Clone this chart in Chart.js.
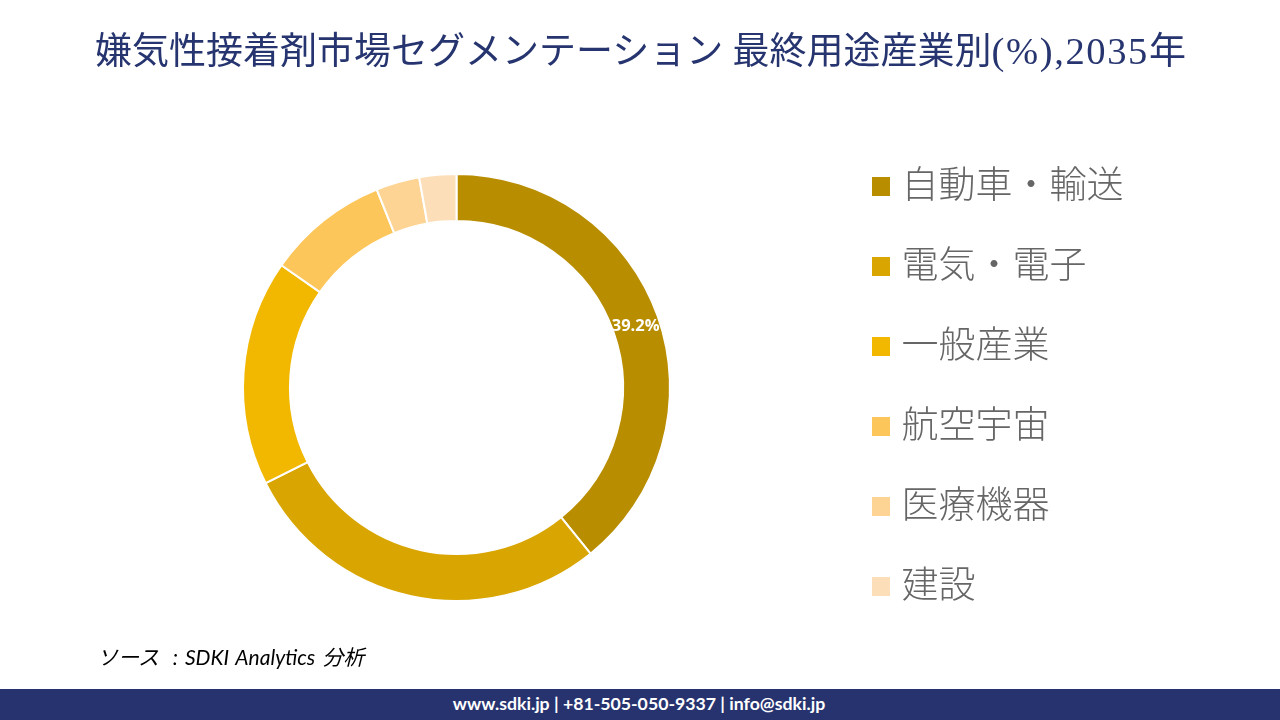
<!DOCTYPE html>
<html lang="ja">
<head>
<meta charset="utf-8">
<script src="https://cdn.jsdelivr.net/npm/chart.js@4"></script>
<style>
html,body{margin:0;padding:0;background:#fff;width:1280px;height:720px;overflow:hidden}
#wrap{position:relative;width:1280px;height:720px}
#c{position:absolute;left:0;top:0}
.t{position:absolute;white-space:pre}
#title{left:0;width:1281px;top:26px;text-align:center;font:400 37px/50px "Liberation Serif","Noto Sans CJK JP",serif;color:#26346f}
#title span{font-size:38.6px;letter-spacing:1.6px}
#source{left:97px;top:643px;font:italic 400 21px/28px Lato,"Noto Sans CJK JP",sans-serif;color:#000;word-spacing:2px}
#bar{position:absolute;left:0;top:689px;width:1280px;height:31px;background:#26336f}
#foot{left:0;width:1278px;top:689px;text-align:center;font:700 17.7px/30px Lato,sans-serif;color:#fff}
.box{position:absolute;left:872px;width:18px;height:19px}
.lab{position:absolute;left:901.5px;font:300 37px/50px "Noto Sans CJK JP",sans-serif;color:#666;white-space:nowrap}
</style>
</head>
<body>
<div id="wrap">
<canvas id="c" width="1280" height="720"></canvas>
<div class="t" id="title"></div>
<div id="legend"></div>
<div class="t" id="source"></div>
<div id="bar"></div>
<div class="t" id="foot"></div>
</div>
<script>
const titleHead = "嫌気性接着剤市場セグメンテーション 最終用途産業別";
const titleMiddle = "(%),2035";
const titleTail = "年";
const sourceText = "ソース  : SDKI Analytics 分析";
const footerText = "www.sdki.jp | +81-505-050-9337 | info@sdki.jp";
const categories = ["自動車・輸送","電気・電子","一般産業","航空宇宙","医療機器","建設"];
const shares = [39.2,28.4,17.1,9.2,3.3,2.8];
const sliceColors = ["#b88d00","#d9a500","#f2b800","#fdc65a","#fdd493","#fcdfb8"];
const labelledSlices = [0];

const titleEl = document.getElementById("title");
const midSpan = document.createElement("span");
midSpan.textContent = titleMiddle;
titleEl.append(titleHead, midSpan, titleTail);
document.getElementById("source").textContent = sourceText;
document.getElementById("foot").textContent = footerText;

const legendEl = document.getElementById("legend");
categories.forEach((name,i)=>{
  const b = document.createElement("div");
  b.className = "box";
  b.style.top = (177+i*80)+"px";
  b.style.background = sliceColors[i];
  legendEl.appendChild(b);
  const l = document.createElement("div");
  l.className = "lab";
  l.style.top = (157+i*80)+"px";
  l.textContent = name;
  legendEl.appendChild(l);
});

const sliceLabels = {
  id:"sliceLabels",
  afterDatasetsDraw(chart){
    const {ctx} = chart;
    const arcs = chart.getDatasetMeta(0).data;
    ctx.save();
    ctx.fillStyle = "#fff";
    ctx.font = '700 16.5px "Open Sans",sans-serif';
    ctx.textAlign = "center";
    ctx.textBaseline = "middle";
    labelledSlices.forEach(i=>{
      const p = arcs[i].tooltipPosition();
      ctx.fillText(shares[i].toFixed(1)+"%",p.x,p.y+2);
    });
    ctx.restore();
  }
};

new Chart(document.getElementById("c"),{
  type:"doughnut",
  data:{labels:categories,datasets:[{data:shares,backgroundColor:sliceColors,borderColor:"#fff",borderWidth:2}]},
  options:{
    responsive:false,
    animation:false,
    cutout:"78%",
    layout:{padding:{left:242,right:609,top:173,bottom:118}},
    plugins:{legend:{display:false},tooltip:{enabled:false},title:{display:false}}
  },
  plugins:[sliceLabels]
});
</script>
</body>
</html>
